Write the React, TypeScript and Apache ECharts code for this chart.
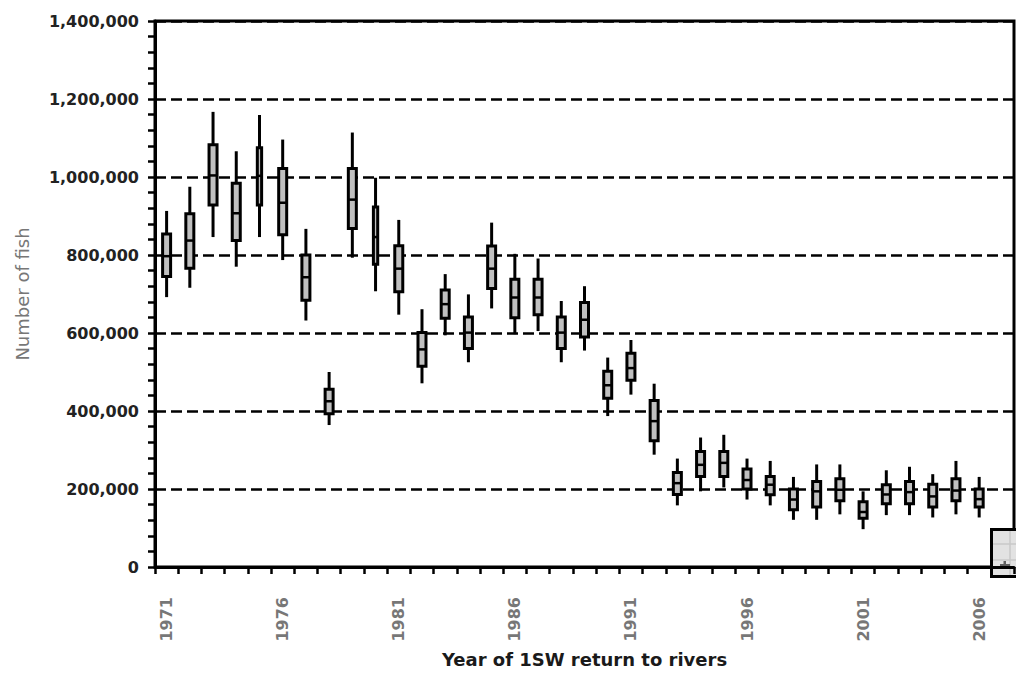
import React, { useEffect, useRef } from "react";
import * as echarts from "echarts";

// Categories (years of 1SW return to rivers)
const years = [
  "1971", "1972", "1973", "1974", "1975", "1976", "1977", "1978", "1979", "1980",
  "1981", "1982", "1983", "1984", "1985", "1986", "1987", "1988", "1989", "1990",
  "1991", "1992", "1993", "1994", "1995", "1996", "1997", "1998", "1999", "2000",
  "2001", "2002", "2003", "2004", "2005", "2006", "2007",
];

// Box statistics per year (lower whisker, Q1, median, Q3, upper whisker)
const whiskerLow = [
  692000, 716000, 846000, 770000, 846000, 787000, 632000, 364000, 793000, 707000,
  647000, 471000, 594000, 525000, 663000, 597000, 605000, 525000, 555000, 387000,
  442000, 288000, 158000, 194000, 204000, 173000, 158000, 121000, 121000, 135000,
  97000, 133000, 133000, 127000, 135000, 127000,
];
const q1 = [
  745000, 766000, 928000, 837000, 928000, 852000, 684000, 393000, 868000, 776000,
  706000, 515000, 638000, 560000, 714000, 639000, 647000, 560000, 590000, 433000,
  479000, 324000, 186000, 232000, 232000, 200000, 185000, 147000, 154000, 170000,
  125000, 162000, 162000, 154000, 170000, 154000,
];
const median = [
  797000, 837000, 1004000, 907000, 1003000, 934000, 743000, 425000, 942000, 846000,
  765000, 558000, 674000, 601000, 765000, 691000, 691000, 601000, 634000, 466000,
  510000, 374000, 215000, 262000, 267000, 223000, 211000, 173000, 194000, 198000,
  141000, 186000, 192000, 181000, 196000, 174000,
];
const q3 = [
  854000, 906000, 1083000, 984000, 1075000, 1022000, 800000, 456000, 1022000, 923000,
  824000, 601000, 710000, 641000, 823000, 738000, 738000, 641000, 678000, 502000,
  548000, 427000, 242000, 296000, 296000, 251000, 232000, 200000, 219000, 226000,
  167000, 211000, 219000, 212000, 226000, 200000,
];
const whiskerHigh = [
  913000, 975000, 1167000, 1066000, 1159000, 1096000, 867000, 500000, 1114000, 998000,
  890000, 661000, 751000, 699000, 883000, 803000, 791000, 682000, 720000, 537000,
  582000, 470000, 278000, 332000, 339000, 278000, 272000, 231000, 263000, 263000,
  194000, 248000, 257000, 238000, 272000, 231000,
];

// Y axis ticks
const yMin = 0;
const yMax = 1400000;
const yStep = 200000;

// Styling only: years drawn with a narrow box
const narrowYears = ["1975", "1980"];

export default function App() {
  const ref = useRef<HTMLDivElement>(null);

  useEffect(() => {
    if (!ref.current) return;
    const chart = echarts.init(ref.current, undefined, { renderer: "svg" });

    const boxData = whiskerLow.map((lo, i) => [
      i, lo, q1[i], median[i], q3[i], whiskerHigh[i],
    ]);

    const option: any = {
      animation: false,
      backgroundColor: "#ffffff",
      grid: {
        left: 155,
        top: 21,
        right: 2,
        bottom: 95,
        containLabel: false,
        show: true,
        borderColor: "#000",
        borderWidth: 3,
        backgroundColor: "transparent",
      },
      xAxis: {
        type: "category",
        data: years,
        boundaryGap: true,
        name: "Year of 1SW return to rivers",
        nameLocation: "middle",
        nameGap: 83,
        nameTextStyle: {
          fontFamily: "DejaVu Sans",
          fontWeight: "bold",
          fontSize: 18,
          color: "#1a1a1a",
        },
        axisLine: { show: true, lineStyle: { color: "#000", width: 3 } },
        axisTick: {
          show: true,
          interval: 0,
          inside: false,
          length: 7,
          lineStyle: { color: "#000", width: 2.5 },
        },
        axisLabel: {
          interval: 4,
          rotate: 90,
          margin: 30,
          fontFamily: "DejaVu Sans",
          fontWeight: "bold",
          fontSize: 16,
          color: "#777",
        },
        splitLine: { show: false },
      },
      yAxis: {
        type: "value",
        min: yMin,
        max: yMax,
        interval: yStep,
        name: "Number of fish",
        nameLocation: "middle",
        nameGap: 124,
        nameRotate: 90,
        nameTextStyle: {
          fontFamily: "DejaVu Sans",
          fontSize: 18,
          color: "#777",
        },
        axisLine: { show: true, lineStyle: { color: "#000", width: 3 } },
        axisTick: {
          show: true,
          inside: false,
          length: 7,
          lineStyle: { color: "#000", width: 2.5 },
        },
        minorTick: {
          show: true,
          splitNumber: 5,
          length: 7,
          lineStyle: { color: "#000", width: 2.5 },
        },
        axisLabel: {
          margin: 16,
          fontFamily: "DejaVu Sans",
          fontWeight: "bold",
          fontSize: 16,
          color: "#222",
          formatter: (v: number) => v.toLocaleString("en-US"),
        },
        splitLine: {
          show: true,
          lineStyle: { color: "#000", width: 2.5, type: [11, 5] },
        },
      },
      series: [
        {
          type: "custom",
          data: boxData,
          encode: { x: 0, y: [1, 2, 3, 4, 5] },
          z: 5,
          renderItem: (params: any, api: any) => {
            const i = api.value(0);
            const w = narrowYears.includes(years[i]) ? 4.3 : 8;
            const pLow = api.coord([i, api.value(1)]);
            const pQ1 = api.coord([i, api.value(2)]);
            const pMed = api.coord([i, api.value(3)]);
            const pQ3 = api.coord([i, api.value(4)]);
            const pHigh = api.coord([i, api.value(5)]);
            const x = pMed[0];
            return {
              type: "group",
              children: [
                {
                  type: "line",
                  shape: { x1: x, y1: pHigh[1], x2: x, y2: pQ3[1] },
                  style: { stroke: "#000", lineWidth: 3 },
                },
                {
                  type: "line",
                  shape: { x1: x, y1: pQ1[1], x2: x, y2: pLow[1] },
                  style: { stroke: "#000", lineWidth: 3 },
                },
                {
                  type: "rect",
                  shape: {
                    x: x - w / 2,
                    y: pQ3[1],
                    width: w,
                    height: pQ1[1] - pQ3[1],
                  },
                  style: { fill: "#c0c0c0", stroke: "#000", lineWidth: 3 },
                },
                {
                  type: "line",
                  shape: { x1: x - w / 2, y1: pMed[1], x2: x + w / 2, y2: pMed[1] },
                  style: { stroke: "#000", lineWidth: 2.5 },
                },
              ],
            };
          },
        },
      ],
      graphic: [
        {
          type: "group",
          z: 100,
          children: [
            {
              type: "rect",
              shape: { x: 991.5, y: 529.5, width: 26, height: 47 },
              style: { fill: "#e2e2e2", stroke: "#000", lineWidth: 3 },
            },
            {
              type: "line",
              shape: { x1: 993, y1: 544, x2: 1016, y2: 544 },
              style: { stroke: "#c9c9c9", lineWidth: 1.5 },
            },
            {
              type: "line",
              shape: { x1: 993, y1: 560, x2: 1016, y2: 560 },
              style: { stroke: "#c9c9c9", lineWidth: 1.5 },
            },
            {
              type: "line",
              shape: { x1: 1010, y1: 531, x2: 1010, y2: 575 },
              style: { stroke: "#c9c9c9", lineWidth: 1.5 },
            },
            {
              type: "rect",
              shape: { x: 1000, y: 564, width: 10, height: 5 },
              style: { fill: "#5f5f5f" },
            },
            {
              type: "rect",
              shape: { x: 1003.5, y: 561, width: 2.5, height: 3 },
              style: { fill: "#5f5f5f" },
            },
          ],
        },
      ],
    };

    chart.setOption(option);
    return () => chart.dispose();
  }, []);

  return (
    <div
      ref={ref}
      style={{ position: "absolute", left: 0, top: 0, width: 1016, height: 673 }}
    />
  );
}
